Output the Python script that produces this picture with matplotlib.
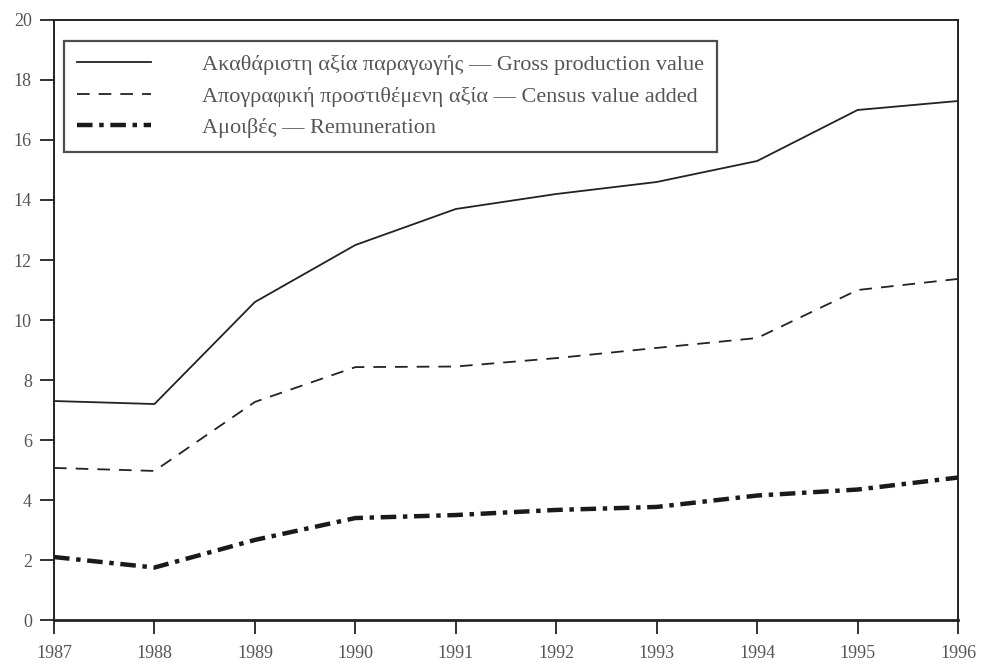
import matplotlib
matplotlib.use("Agg")
import matplotlib.pyplot as plt

years = [1987, 1988, 1989, 1990, 1991, 1992, 1993, 1994, 1995, 1996]
gross = [7.3, 7.2, 10.6, 12.5, 13.7, 14.2, 14.6, 15.3, 17.0, 17.3]
census = [5.07, 4.97, 7.27, 8.43, 8.45, 8.73, 9.07, 9.4, 11.0, 11.37]
remun = [2.1, 1.75, 2.67, 3.4, 3.5, 3.67, 3.77, 4.15, 4.35, 4.75]

labels = [
    "Ακαθάριστη αξία παραγωγής — Gross production value",
    "Απογραφική προστιθέμενη αξία — Census value added",
    "Αμοιβές — Remuneration",
]

plt.rcParams['font.family'] = ['Liberation Serif', 'DejaVu Serif']

fig = plt.figure(figsize=(9.84, 6.66), dpi=100)
ax = fig.add_axes([0.0549, 0.069, 0.9187, 0.901])

ax.plot(years, gross, color="#222222", lw=1.3, label=labels[0])
ax.plot(years, census, color="#222222", lw=1.3, dashes=(7, 5), label=labels[1])
ax.plot(years, remun, color="#1a1a1a", lw=3.2, dashes=(3.5, 1.5, 1, 1.5), label=labels[2])

ax.set_xlim(1987, 1996)
ax.set_ylim(0, 20)
ax.set_xticks(years)
ax.set_yticks(range(0, 21, 2))
ax.tick_params(direction="out", length=10, width=1.3, labelsize=13, colors="#222222",
               labelcolor="#555555")
ax.tick_params(axis="x", pad=8)
ax.tick_params(axis="y", pad=6)
for s in ax.spines.values():
    s.set_linewidth(1.4)
    s.set_color("#222222")
ax.spines["bottom"].set_linewidth(2)

leg = ax.legend(loc="upper left", bbox_to_anchor=(0.011, 0.965), fontsize=16,
                frameon=True, fancybox=False, handlelength=3.3, handletextpad=2.3,
                borderpad=0.6, borderaxespad=0, labelspacing=0.5, labelcolor="#555555")
leg.get_frame().set_edgecolor("#222222")
leg.get_frame().set_linewidth(1.6)

fig.savefig("out.png", dpi=100)
